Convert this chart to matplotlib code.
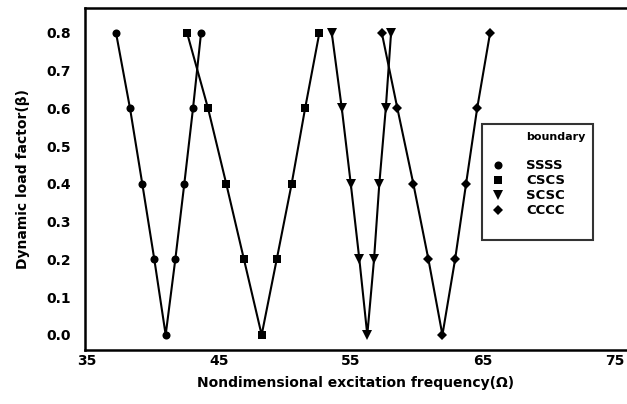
import matplotlib
matplotlib.use("Agg")
import matplotlib.pyplot as plt
from matplotlib.lines import Line2D

plt.rcParams['font.family'] = ['DejaVu Sans']
plt.rcParams['font.weight'] = 'bold'

# dynamic load factor levels (down then back up)
beta = [0.8, 0.6, 0.4, 0.2, 0.0, 0.2, 0.4, 0.6, 0.8]

# excitation frequency at each beta
ssss = [37.2, 38.26, 39.19, 40.1, 40.96, 41.69, 42.37, 43.03, 43.64]
cscs = [42.58, 44.17, 45.55, 46.89, 48.23, 49.37, 50.5, 51.52, 52.6]
scsc = [53.54, 54.3, 54.98, 55.63, 56.23, 56.74, 57.14, 57.63, 58.03]
cccc = [57.33, 58.51, 59.72, 60.86, 61.92, 62.88, 63.71, 64.55, 65.53]

names = ['SSSS', 'CSCS', 'SCSC', 'CCCC']
markers = ['o', 's', 'v', 'D']
sizes = [5.8, 5.5, 7, 5.5]

fig = plt.figure(figsize=(6.27, 4.04), dpi=100)
ax = fig.add_axes([85/627, 54/404, 542/627, 342/404])

for xs, m, ms in zip([ssss, cscs, scsc, cccc], markers, sizes):
    ax.plot(xs, beta, color='black', lw=1.5, marker=m, ms=ms, mew=0,
            markerfacecolor='black')

ax.set_xlim(34.85, 75.9)
ax.set_ylim(-0.04, 0.866)
ax.set_xticks([35, 45, 55, 65, 75])
ax.set_yticks([0.0, 0.1, 0.2, 0.3, 0.4, 0.5, 0.6, 0.7, 0.8])
ax.set_yticklabels(['0.0', '0.1', '0.2', '0.3', '0.4', '0.5', '0.6', '0.7', '0.8'])
ax.tick_params(axis='x', length=0, labelsize=10, pad=3)
ax.tick_params(axis='y', length=0, labelsize=10, pad=10)
for lab in ax.get_xticklabels() + ax.get_yticklabels():
    lab.set_fontweight('bold')

for s in ['left', 'bottom', 'top']:
    ax.spines[s].set_linewidth(1.8)
ax.spines['right'].set_visible(False)

ax.set_xlabel('Nondimensional excitation frequency(Ω)', fontsize=10, fontweight='bold', labelpad=6)
ax.set_ylabel('Dynamic load factor(β)', fontsize=10, fontweight='bold', labelpad=12)

# legend: title row, gap, entries, gap
blank = Line2D([], [], linestyle='none', marker=None)
handles = [blank, blank]
labels = ['boundary', ' ']
for m, n, ms in zip(markers, names, sizes):
    handles.append(Line2D([], [], linestyle='none', marker=m, color='black', ms=ms, mew=0))
    labels.append(n)
handles.append(blank)
labels.append(' ')
leg = fig.legend(handles, labels, loc='upper left', bbox_to_anchor=(482/627, 1 - 124/404),
                 borderaxespad=0, frameon=True, fancybox=False,
                 labelspacing=0.15, handlelength=1.3, handletextpad=1.5,
                 borderpad=0.55, prop={'weight': 'bold', 'size': 9.5})
leg.get_frame().set_edgecolor('black')
leg.get_frame().set_linewidth(1.5)
leg.get_texts()[0].set_fontsize(8)

fig.savefig('out.png', dpi=100)
